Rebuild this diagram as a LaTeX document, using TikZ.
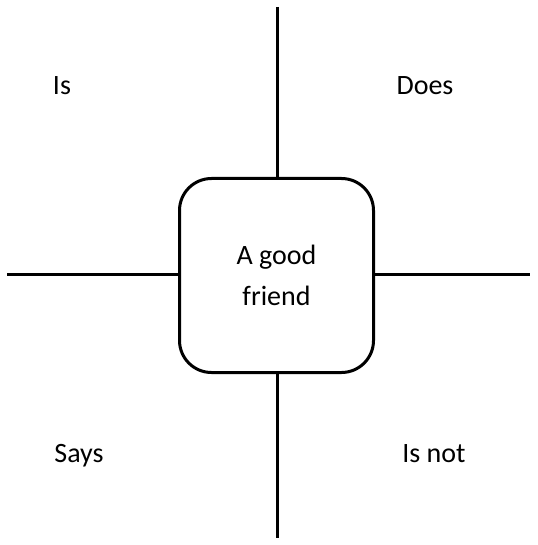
\documentclass[tikz,border=0pt]{standalone}
\usepackage{fontspec}
\setmainfont{Carlito}
\usepackage{tikz}
\usetikzlibrary{positioning, calc}
\tikzset{
  centerbox/.style={draw, line width=3pt, rounded corners=32pt, minimum width=194pt, minimum height=194pt, align=center, font=\fontsize{28}{41}\selectfont},
  cornerlabel/.style={anchor=base, font=\fontsize{28}{34}\selectfont},
  armline/.style={line width=3pt}
}

\begin{document}
\begin{tikzpicture}[x=1pt,y=-1pt]
          \useasboundingbox (0,0) rectangle (537,545);
          \node[centerbox] (friend) at (276.5,275.5) {A good\\friend};
          \coordinate (topend) at (277.5,7);
          \coordinate (bottomend) at (277.5,538);
          \coordinate (leftend) at (7,274.5);
          \coordinate (rightend) at (530,274.5);
          \draw[armline] (topend) -- (topend |- friend.north);
          \draw[armline] (friend.south -| bottomend) -- (bottomend);
          \draw[armline] (leftend) -- (leftend -| friend.west);
          \draw[armline] (friend.east |- rightend) -- (rightend);
          \node[cornerlabel] (is) at (62,95) {Is};
          \node[cornerlabel] (does) at (425,95) {Does};
          \node[cornerlabel] (says) at (79,462) {Says};
          \node[cornerlabel] (isnot) at (434,462) {Is not};
        \end{tikzpicture}
\end{document}
